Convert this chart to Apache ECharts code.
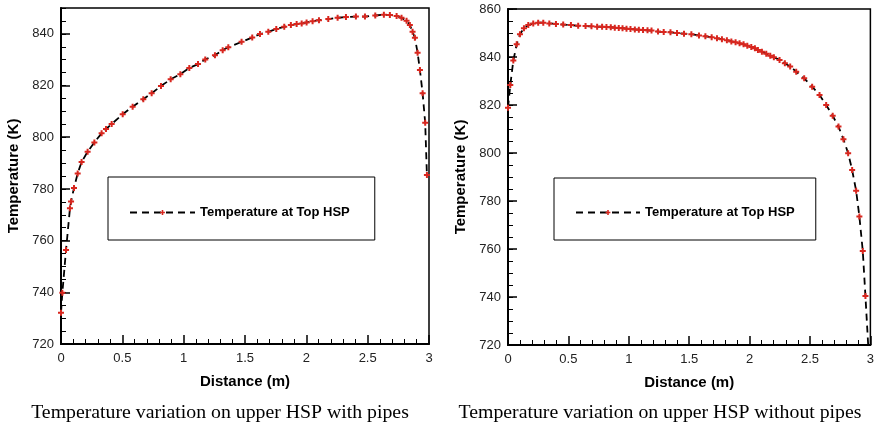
<!DOCTYPE html>
<html>
<head>
<meta charset="utf-8">
<script src="https://cdn.jsdelivr.net/npm/echarts@6/dist/echarts.min.js"></script>
<style>
html, body { margin: 0; padding: 0; background: #fff; }
#main { width: 877px; height: 429px; }
</style>
</head>
<body>
<div id="main"></div>
<script>
const SERIES_NAME = 'Temperature at Top HSP';

// ------------------ left plot: upper HSP with pipes ------------------
const withPipesDist = [0.000, 0.011, 0.041, 0.073, 0.082, 0.106, 0.136, 0.168, 0.217, 0.272, 0.331, 0.367, 0.413,
    0.503, 0.584, 0.671, 0.739, 0.815, 0.894, 0.973, 1.046, 1.117, 1.176, 1.255, 1.318, 1.364, 1.472, 1.559,
    1.622, 1.690, 1.755, 1.820, 1.874, 1.921, 1.962, 2.002, 2.051, 2.103, 2.179, 2.255, 2.323, 2.404, 2.478,
    2.562, 2.632, 2.681, 2.736, 2.776, 2.817, 2.844, 2.866, 2.885, 2.907, 2.926, 2.948, 2.969, 2.983];
const withPipesTemp = [732.1, 739.8, 756.4, 772.5, 775.1, 780.4, 786.0, 790.4, 794.4, 798.0, 801.5, 803.2, 805.1,
    808.9, 811.8, 814.7, 817.0, 819.8, 822.4, 824.4, 826.8, 828.3, 830.1, 831.7, 833.7, 834.8, 836.9, 838.6,
    839.9, 840.8, 841.9, 842.7, 843.4, 843.8, 844.0, 844.4, 844.9, 845.3, 845.7, 846.2, 846.5, 846.7, 846.7,
    847.1, 847.4, 847.3, 846.9, 846.2, 845.1, 843.4, 840.8, 838.5, 832.7, 826.0, 817.0, 805.6, 785.4];

// ------------------ right plot: upper HSP without pipes ------------------
const noPipesDist = [0.000, 0.019, 0.044, 0.072, 0.099, 0.132, 0.168, 0.209, 0.250, 0.292, 0.342, 0.397, 0.457,
    0.521, 0.581, 0.642, 0.691, 0.738, 0.779, 0.815, 0.851, 0.884, 0.917, 0.948, 0.981, 1.014, 1.050, 1.083,
    1.118, 1.155, 1.188, 1.242, 1.289, 1.345, 1.399, 1.457, 1.518, 1.581, 1.634, 1.686, 1.730, 1.771, 1.812,
    1.849, 1.884, 1.917, 1.950, 1.981, 2.014, 2.044, 2.069, 2.102, 2.138, 2.171, 2.201, 2.248, 2.292, 2.336,
    2.386, 2.452, 2.518, 2.579, 2.634, 2.688, 2.736, 2.777, 2.816, 2.849, 2.882, 2.909, 2.937, 2.959, 2.985];
const noPipesTemp = [818.9, 828.3, 838.5, 845.3, 849.5, 852.0, 853.3, 854.0, 854.3, 854.3, 854.0, 853.8, 853.5,
    853.3, 853.0, 852.9, 852.8, 852.6, 852.6, 852.5, 852.4, 852.2, 852.1, 852.0, 851.8, 851.7, 851.5, 851.4,
    851.3, 851.1, 851.0, 850.6, 850.4, 850.3, 850.0, 849.7, 849.5, 849.0, 848.6, 848.2, 847.8, 847.4, 847.0,
    846.5, 846.1, 845.7, 845.3, 844.7, 844.2, 843.6, 842.9, 842.2, 841.4, 840.5, 839.9, 838.8, 837.4, 836.0,
    833.9, 831.1, 827.6, 824.2, 820.0, 815.5, 811.0, 805.7, 799.9, 792.9, 784.3, 773.5, 759.2, 740.4, 717.0];

const xTicks = {min: 0, max: 3, interval: 0.5};
const leftYTicks = {min: 720, max: 850, interval: 20};
const rightYTicks = {min: 720, max: 860, interval: 20};

const FONT = '"Liberation Sans", Arial, sans-serif';
const SERIF = '19.8px "Liberation Serif", "Times New Roman", serif';

function toData(xs, ys, hideLast) {
    return xs.map(function (x, i) {
        let item = {value: [x, ys[i]]};
        if (hideLast && i === xs.length - 1) item.symbol = 'none';
        return item;
    });
}

function xAxis(gridIndex) {
    return {
        type: 'value', gridIndex: gridIndex,
        min: xTicks.min, max: xTicks.max, interval: xTicks.interval,
        name: 'Distance (m)', nameLocation: 'middle', nameGap: 30,
        nameTextStyle: {fontFamily: FONT, fontWeight: 'bold', fontSize: 15, color: '#000'},
        axisLine: {onZero: false, lineStyle: {color: '#000', width: 2}},
        axisTick: {inside: true, length: 9, lineStyle: {color: '#000', width: 1.5}},
        minorTick: {show: true, splitNumber: 5, length: 5, lineStyle: {color: '#000', width: 1}},
        axisLabel: {fontFamily: FONT, fontSize: 13, color: '#222', margin: 8},
        splitLine: {show: false}
    };
}

function yAxis(gridIndex, t) {
    return {
        type: 'value', gridIndex: gridIndex, position: 'left',
        min: t.min, max: t.max, interval: t.interval,
        name: 'Temperature (K)', nameLocation: 'middle', nameGap: 40,
        nameTextStyle: {fontFamily: FONT, fontWeight: 'bold', fontSize: 15, color: '#000'},
        axisLine: {onZero: false, lineStyle: {color: '#000', width: 2}},
        axisTick: {inside: true, length: 9, lineStyle: {color: '#000', width: 1.5}},
        axisLabel: {fontFamily: FONT, fontSize: 13, color: '#222', margin: 7, showMaxLabel: t.max % t.interval === 0},
        splitLine: {show: false}
    };
}

// minor ticks every 5 K, drawn by a second, label-less axis
function yMinorAxis(gridIndex, t) {
    return {
        type: 'value', gridIndex: gridIndex, position: 'left',
        min: t.min, max: t.max, interval: 5,
        axisLine: {show: false},
        axisTick: {inside: true, length: 5, lineStyle: {color: '#000', width: 1}},
        axisLabel: {show: false},
        splitLine: {show: false}
    };
}

function lineSeries(xIdx, yIdx, data) {
    return {
        name: SERIES_NAME, type: 'line', xAxisIndex: xIdx, yAxisIndex: yIdx,
        data: data, clip: true,
        symbol: 'path://M2,0H4V2H6V4H4V6H2V4H0V2H2Z', symbolSize: 6,
        itemStyle: {color: '#d8261e'},
        lineStyle: {color: '#000', width: 1.8, type: [7, 5]},
        animation: false
    };
}

function legend(left, top, padding, itemWidth) {
    return {
        data: [SERIES_NAME], left: left, top: top, orient: 'horizontal',
        itemWidth: itemWidth, itemHeight: 6, padding: padding,
        borderColor: '#000', borderWidth: 1, backgroundColor: '#fff',
        selectedMode: false,
        textStyle: {fontFamily: FONT, fontWeight: 'bold', fontSize: 13, color: '#000'}
    };
}

let myChart = echarts.init(document.getElementById('main'), null, {renderer: 'canvas'});

let option = {
    backgroundColor: '#fff',
    animation: false,
    grid: [
        {left: 61, top: 8, width: 368, height: 336, show: true, borderColor: '#000', borderWidth: 1.5},
        {left: 508, top: 9, width: 363, height: 336, show: true, borderColor: '#000', borderWidth: 1.5}
    ],
    xAxis: [xAxis(0), xAxis(1)],
    yAxis: [yAxis(0, leftYTicks), yMinorAxis(0, leftYTicks), yAxis(1, rightYTicks), yMinorAxis(1, rightYTicks)],
    legend: [
        legend(108, 177, [29, 25, 21, 21], 65),
        legend(554, 178, [28, 21, 21, 21], 64)
    ],
    series: [
        lineSeries(0, 0, toData(withPipesDist, withPipesTemp, false)),
        lineSeries(1, 2, toData(noPipesDist, noPipesTemp, true))
    ],
    graphic: [
        {type: 'text', x: 220, y: 413, style: {text: 'Temperature variation on upper HSP with pipes', font: SERIF, fill: '#000', align: 'center', verticalAlign: 'middle'}},
        {type: 'text', x: 660, y: 413, style: {text: 'Temperature variation on upper HSP without pipes', font: SERIF, fill: '#000', align: 'center', verticalAlign: 'middle'}}
    ]
};

myChart.setOption(option, true);
</script>
</body>
</html>
